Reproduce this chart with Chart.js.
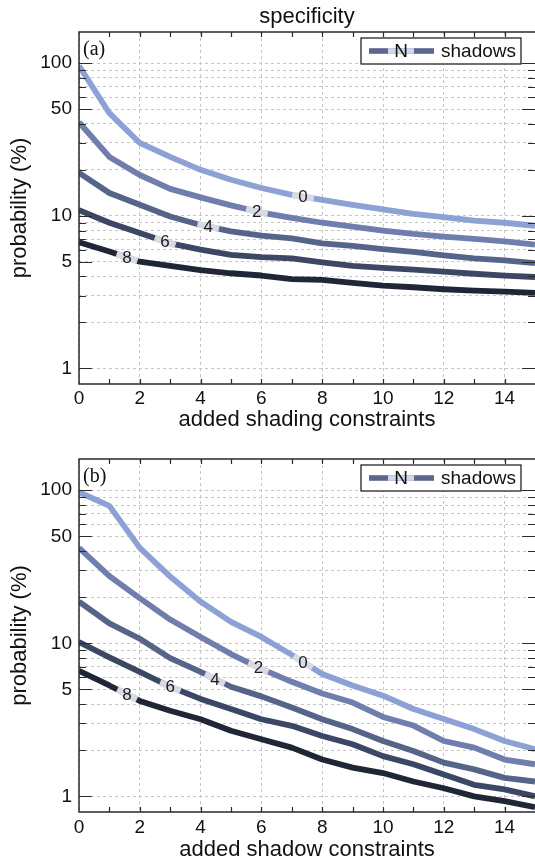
<!DOCTYPE html>
<html>
<head>
<meta charset="utf-8">
<script src="https://cdn.jsdelivr.net/npm/chart.js@4/dist/chart.umd.min.js"></script>
<style>
  html, body { margin: 0; padding: 0; background: #fff; }
  .panel { width: 535px; }
</style>
</head>
<body>
<div class="panel"><canvas id="chartA" width="535" height="434"></canvas></div>
<div class="panel"><canvas id="chartB" width="535" height="430"></canvas></div>
<script>
// added constraints (x axis)
const steps = [0, 1, 2, 3, 4, 5, 6, 7, 8, 9, 10, 11, 12, 13, 14, 15];
const shadowCounts = ["0", "2", "4", "6", "8"];

// (a) added shading constraints, probability in %
const shadingN0 = [96, 47, 30, 24.3, 20, 17.2, 15.2, 13.7, 12.7, 11.8, 11.0, 10.3, 9.8, 9.3, 9.0, 8.6];
const shadingN2 = [41, 24.3, 18.5, 15.0, 13.2, 11.7, 10.5, 9.7, 9.0, 8.5, 8.0, 7.6, 7.3, 7.05, 6.8, 6.47];
const shadingN4 = [19.1, 14.1, 11.8, 9.9, 8.7, 7.9, 7.4, 7.1, 6.6, 6.35, 6.05, 5.8, 5.5, 5.25, 5.1, 4.9];
const shadingN6 = [10.9, 9.0, 7.7, 6.6, 6.0, 5.55, 5.35, 5.25, 4.95, 4.7, 4.55, 4.43, 4.3, 4.17, 4.05, 3.97];
const shadingN8 = [6.7, 5.84, 5.0, 4.7, 4.4, 4.2, 4.06, 3.85, 3.8, 3.63, 3.48, 3.4, 3.3, 3.23, 3.18, 3.12];

// (b) added shadow constraints, probability in %
const shadowN0 = [97, 79, 42, 27.3, 18.7, 13.8, 11.0, 8.4, 6.3, 5.3, 4.55, 3.72, 3.2, 2.75, 2.3, 2.03];
const shadowN2 = [42, 27.5, 19.7, 14.3, 11.0, 8.5, 6.8, 5.6, 4.7, 4.1, 3.3, 2.9, 2.3, 2.08, 1.74, 1.62];
const shadowN4 = [18.7, 13.5, 10.7, 8.0, 6.5, 5.2, 4.5, 3.81, 3.19, 2.75, 2.30, 1.98, 1.66, 1.50, 1.32, 1.25];
const shadowN6 = [10.2, 8.1, 6.5, 5.2, 4.33, 3.72, 3.19, 2.89, 2.48, 2.19, 1.83, 1.62, 1.39, 1.19, 1.11, 1.0];
const shadowN8 = [6.6, 5.3, 4.2, 3.62, 3.19, 2.68, 2.36, 2.08, 1.74, 1.54, 1.42, 1.25, 1.13, 1.0, 0.93, 0.85];

// where the inline N labels sit (x value along each line)
const labelSpotsShading = [7.37, 5.85, 4.25, 2.83, 1.58];
const labelSpotsShadow = [7.37, 5.9, 4.47, 3.0, 1.58];

// ticks
const xTickValues = [0, 2, 4, 6, 8, 10, 12, 14];
const yTickValues = [1, 2, 3, 4, 5, 6, 7, 8, 9, 10, 20, 30, 40, 50, 60, 70, 80, 90, 100];
const yLabeledTicks = [1, 5, 10, 50, 100];

const lineColors = ["#8da1d5", "#6f7eac", "#56648a", "#3c4766", "#212636"];
const sans = "Helvetica, 'Liberation Sans', Arial, sans-serif";
const serif = "'Liberation Serif', 'Times New Roman', serif";

const decorPlugin = {
  id: "decor",
  afterDatasetsDraw(chart, args, opts) {
    const ctx = chart.ctx;
    chart.data.datasets.forEach((ds, k) => {
      const meta = chart.getDatasetMeta(k);
      const xv = opts.spots[k];
      const i = Math.floor(xv), t = xv - i;
      const p0 = meta.data[i], p1 = meta.data[i + 1];
      const px = p0.x + t * (p1.x - p0.x);
      const py = p0.y + t * (p1.y - p0.y);
      const ang = Math.atan2(p1.y - p0.y, p1.x - p0.x);
      ctx.save();
      ctx.translate(px, py);
      ctx.rotate(ang);
      ctx.fillStyle = "#d8dbe3";
      ctx.fillRect(-11, -3.3, 22, 6.6);
      ctx.restore();
      ctx.save();
      ctx.fillStyle = "#1a1a1a";
      ctx.font = "17px " + sans;
      ctx.textAlign = "center";
      ctx.textBaseline = "middle";
      ctx.fillText(ds.label, px, py + 1);
      ctx.restore();
    });
  },
  afterDraw(chart, args, opts) {
    const ctx = chart.ctx;
    const { left, right, top, bottom } = chart.chartArea;
    const xs = chart.scales.x, ys = chart.scales.y;
    ctx.save();
    ctx.strokeStyle = "#2a2a2a";
    ctx.lineWidth = 1.5;
    ctx.beginPath();
    ctx.moveTo(right, top); ctx.lineTo(left, top);
    ctx.lineTo(left, bottom); ctx.lineTo(right, bottom);
    ctx.stroke();
    ctx.lineWidth = 1.2;
    ctx.beginPath();
    yTickValues.forEach(v => {
      const y = Math.round(ys.getPixelForValue(v)) + 0.5;
      const len = yLabeledTicks.includes(v) ? 13 : 7;
      ctx.moveTo(left, y); ctx.lineTo(left + len, y);
      ctx.moveTo(right, y); ctx.lineTo(right - len, y);
    });
    steps.forEach(v => {
      if (v === 0 || v === 15) return;
      const x = Math.round(xs.getPixelForValue(v)) + 0.5;
      ctx.moveTo(x, bottom); ctx.lineTo(x, bottom - 5);
      ctx.moveTo(x, top); ctx.lineTo(x, top + 5);
    });
    ctx.stroke();

    // panel letter
    ctx.fillStyle = "#111";
    ctx.font = "20px " + serif;
    ctx.textAlign = "left";
    ctx.textBaseline = "middle";
    ctx.fillText(opts.panel, left + 4, top + 18);

    // title
    if (opts.title) {
      ctx.font = "22px " + sans;
      ctx.textAlign = "center";
      ctx.fillText(opts.title, (left + right) / 2, 17);
    }

    // legend
    const bw = 160, bh = 26;
    const bx = right - 14 - bw, by = top + 6;
    ctx.fillStyle = "#fff";
    ctx.fillRect(bx, by, bw, bh);
    ctx.strokeStyle = "#111";
    ctx.lineWidth = 1.2;
    ctx.strokeRect(bx, by, bw, bh);
    const ly = by + bh / 2;
    ctx.fillStyle = "#5b678f";
    ctx.fillRect(bx + 8, ly - 2.8, 65, 5.6);
    ctx.fillStyle = "#d3d8e6";
    ctx.fillRect(bx + 27, ly - 2.8, 26, 5.6);
    ctx.fillStyle = "#111";
    ctx.font = "19px " + sans;
    ctx.textAlign = "center";
    ctx.fillText("N", bx + 40, ly + 1);
    ctx.textAlign = "left";
    ctx.fillText("shadows", bx + 80, ly + 1);
    ctx.restore();
  }
};

function makePanel(id, series, spots, cfg) {
  const ctx = document.getElementById(id).getContext("2d");
  return new Chart(ctx, {
    type: "line",
    data: {
      datasets: series.map((vals, k) => ({
        label: shadowCounts[k],
        data: vals.map((v, i) => ({ x: steps[i], y: v })),
        borderColor: lineColors[k],
        borderWidth: 5.8,
        borderJoinStyle: "round",
        pointRadius: 0,
        tension: 0,
        fill: false
      }))
    },
    plugins: [decorPlugin],
    options: {
      responsive: false,
      animation: false,
      layout: { padding: { top: cfg.padTop, left: 0, right: 0, bottom: 0 } },
      plugins: {
        legend: { display: false },
        tooltip: { enabled: false },
        decor: { panel: cfg.panel, title: cfg.title, spots: spots }
      },
      scales: {
        x: {
          type: "linear",
          min: 0,
          max: 15,
          afterBuildTicks: s => { s.ticks = xTickValues.map(v => ({ value: v })); },
          grid: { color: "#c6c6c6", lineWidth: 1, drawTicks: false },
          border: { display: false, dash: [3, 3] },
          ticks: { color: "#111", font: { size: 19, family: sans }, padding: cfg.xPad, maxRotation: 0, autoSkip: false },
          title: {
            display: true,
            text: cfg.xTitle,
            color: "#111",
            font: { size: 22, family: sans, lineHeight: 1 },
            padding: { top: 0, bottom: 3 }
          },
          afterFit: s => { s.height = cfg.xHeight; }
        },
        y: {
          type: "logarithmic",
          min: 0.79,
          max: 160,
          afterBuildTicks: s => { s.ticks = yTickValues.map(v => ({ value: v })); },
          grid: { color: "#c6c6c6", lineWidth: 1, drawTicks: false },
          border: { display: false, dash: [3, 3] },
          ticks: {
            color: "#111",
            font: { size: 19, family: sans },
            padding: 7,
            autoSkip: false,
            callback: v => (yLabeledTicks.includes(v) ? String(v) : "")
          },
          title: {
            display: true,
            text: "probability (%)",
            color: "#111",
            font: { size: 22, family: sans },
            padding: { top: 7, bottom: 0 }
          },
          afterFit: s => { s.width = 79; }
        }
      }
    }
  });
}

makePanel("chartA", [shadingN0, shadingN2, shadingN4, shadingN6, shadingN8], labelSpotsShading, {
  panel: "(a)", title: "specificity", xTitle: "added shading constraints",
  padTop: 32, xHeight: 50, xPad: 3.5
});
makePanel("chartB", [shadowN0, shadowN2, shadowN4, shadowN6, shadowN8], labelSpotsShadow, {
  panel: "(b)", title: "", xTitle: "added shadow constraints",
  padTop: 25, xHeight: 52, xPad: 4.5
});
</script>
</body>
</html>
